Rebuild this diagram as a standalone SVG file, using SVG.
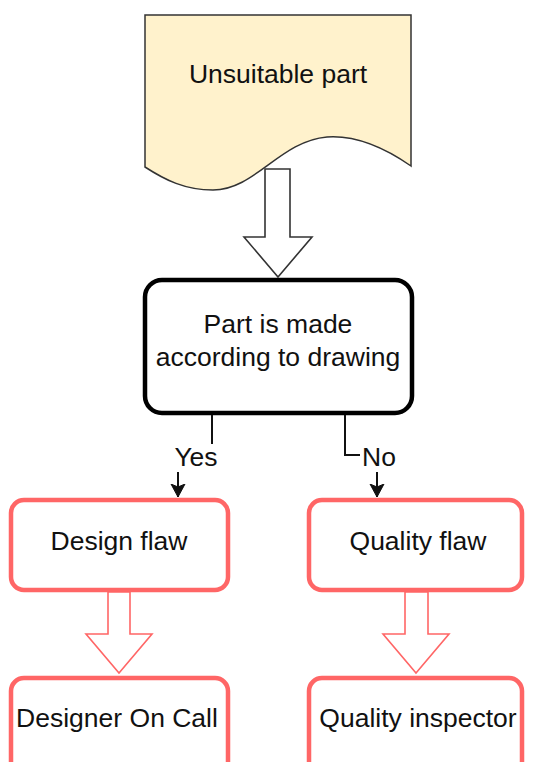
<svg xmlns="http://www.w3.org/2000/svg" width="542" height="762" viewBox="0 0 542 762">
<style>
text{font-family:"Liberation Sans",Arial,sans-serif;font-size:26.5px;fill:#111;text-anchor:middle}
.red{fill:#fff;stroke:#ff6666;stroke-width:4.5}
.redarrow{fill:#fff;stroke:#ff6666;stroke-width:1.6}
.conn{fill:none;stroke:#111;stroke-width:2}
.lbl{fill:#fff}
</style>
<defs>
<marker id="arr" markerUnits="userSpaceOnUse" markerWidth="16" markerHeight="16" viewBox="0 0 16 16" refX="13" refY="8" orient="auto">
<path d="M13,8 L0,1 L3,8 L0,15 Z" fill="#111" stroke="#111" stroke-width="1"/>
</marker>
</defs>
<rect width="542" height="762" fill="#fff"/>
<g id="unsuitable">
<path d="M145,15 H411 V166 C385,148 355,135 327,137 C280,141 255,190 213,190 C185,190 165,180 145,167 Z" fill="#fff2cc" stroke="#333" stroke-width="1.5"/>
<text x="278" y="83">Unsuitable part</text>
</g>
<g id="decision">
<rect x="145" y="280" width="267" height="133" rx="17" fill="#fff" stroke="#000" stroke-width="4.5"/>
<text x="278" y="333">Part is made</text>
<text x="278" y="366">according to drawing</text>
</g>
<g id="design-flaw">
<rect class="red" x="11" y="500" width="217" height="90" rx="13"/>
<text x="119" y="550">Design flaw</text>
</g>
<g id="quality-flaw">
<rect class="red" x="309" y="500" width="213" height="90" rx="13"/>
<text x="418" y="550">Quality flaw</text>
</g>
<g id="designer-on-call">
<rect class="red" x="11" y="678" width="217" height="100" rx="13"/>
<text x="117" y="727">Designer On Call</text>
</g>
<g id="quality-inspector">
<rect class="red" x="309" y="678" width="213" height="100" rx="13"/>
<text x="418" y="727">Quality inspector</text>
</g>
<g id="connectors">
<polygon points="265,169 290,169 290,237 312,237 278,277 244,237 265,237" fill="#fff" stroke="#333" stroke-width="1.6"/>
<polygon class="redarrow" points="108,592 130,592 130,634 152,634 119,673 86,634 108,634"/>
<polygon class="redarrow" points="405,592 428,592 428,634 449,634 416,673 383,634 405,634"/>
<path class="conn" d="M212,415 V458 H178 V497" marker-end="url(#arr)"/>
<rect class="lbl" x="173" y="444" width="45" height="28"/>
<text x="196" y="466">Yes</text>
<path class="conn" d="M345,415 V455 H377 V497" marker-end="url(#arr)"/>
<rect class="lbl" x="360" y="444" width="38" height="28"/>
<text x="379" y="466">No</text>
</g>
</svg>
